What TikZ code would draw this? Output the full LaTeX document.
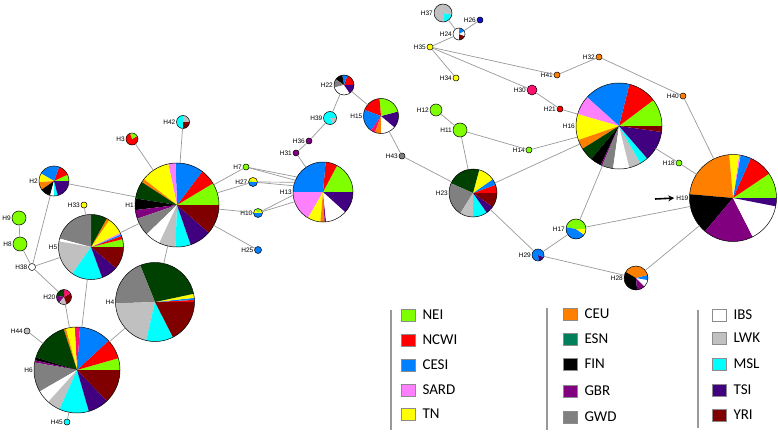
\documentclass[tikz,border=0pt]{standalone}
\usepackage{fontspec}
\setmainfont{Liberation Sans}
\newfontfamily\keyfont{Carlito}
\usetikzlibrary{positioning,arrows.meta}

\definecolor{nei}{HTML}{80FF00}
\definecolor{ncwi}{HTML}{FF0000}
\definecolor{cesi}{HTML}{0080FF}
\definecolor{sard}{HTML}{FF80FF}
\definecolor{tn}{HTML}{FFFF00}
\definecolor{ceu}{HTML}{FF8000}
\definecolor{esn}{HTML}{004000}
\definecolor{esnkey}{HTML}{00805A}
\definecolor{fin}{HTML}{000000}
\definecolor{gbr}{HTML}{800080}
\definecolor{gwd}{HTML}{808080}
\definecolor{ibs}{HTML}{FFFFFF}
\definecolor{lwk}{HTML}{C0C0C0}
\definecolor{msl}{HTML}{00FFFF}
\definecolor{tsi}{HTML}{400080}
\definecolor{yri}{HTML}{800000}
\definecolor{crim}{HTML}{FF1070}
\definecolor{navy}{HTML}{1010C8}

\newcommand\hfont{\fontsize{6.5}{7}\selectfont}

% haplotype pie: name, position, radius, colour/degrees list
\newcommand\hap[4]{%
  \node[hapnode, minimum size=2*#3pt, label={[hlab, name=#1-lab]left:#1}] (#1) at (#2) {};
  \gdef\angA{0}%
  \foreach \col/\sw in {#4}{%
    \pgfmathsetmacro\angB{\angA+\sw}%
    \fill[\col] (#1.center) -- ++(\angA:#3pt) arc[start angle=\angA, end angle=\angB, radius=#3pt] -- cycle;
    \xdef\angA{\angB}%
  }%
  \draw[rim] (#1.center) circle[radius=#3pt];
}

\begin{document}
\begin{tikzpicture}[
    x=1pt, y=-1pt,
    node distance=7pt,
    hapnode/.style={circle, inner sep=0pt, outer sep=0pt},
    hlab/.style={font=\hfont, inner sep=1pt},
    link/.style={draw=black!40, line width=0.7pt},
    rim/.style={draw=black, line width=0.5pt},
    swatch/.style={
        draw=black!45,
        line width=0.6pt,
        minimum width=14pt,
        minimum height=12pt,
        inner sep=0pt,
    },
    keytext/.style={font=\keyfont\fontsize{15}{18}\selectfont, inner sep=0pt},
    divider/.style={draw=black!40, line width=1.2pt},
    pointer/.style={-{Stealth[length=6pt, width=6pt]}, line width=1.6pt},
]
\useasboundingbox (0,0) rectangle (778,433);

% ----- Left cluster -----
\hap{H1}{177,205}{42}{nei/31, ncwi/22, cesi/39, sard/10, tn/40, ceu/5, esn/24, fin/16, gbr/12, gwd/25, ibs/21, lwk/23, msl/21, tsi/30, yri/41}
\hap{H2}{54,181}{15}{nei/25, ncwi/45, cesi/80, tn/35, ceu/30, fin/40, ibs/15, msl/15, tsi/75}
\hap{H3}{132,139}{6}{ncwi/30, nei/80, ncwi/250}
\hap{H42}{183,122}{6.5}{lwk/90, msl/180, yri/90}
\hap{H5}{91,247}{32.5}{nei/14, ncwi/6, cesi/3, sard/3, tn/30, ceu/5, esn/29, gwd/75, ibs/5, lwk/65, msl/55, tsi/30, yri/40}
\hap{H33}{84,205}{3}{tn/360}
\hap{H9}{19,218}{7}{nei/360}
\hap{H8}{20,244}{7}{nei/360}
\hap{H38}{32,267}{3.5}{ibs/360}
\hap{H7}{246,167}{3}{nei/360}
\hap{H27}{253,182}{4.5}{tn/150, nei/30, cesi/180}
\hap{H10}{258,213}{4.5}{tn/50, nei/80, tn/50, cesi/180}
\hap{H25}{258,250}{3.5}{cesi/360}
\hap{H4}{155,302}{39.5}{ncwi/3, cesi/3, tn/6, esn/100, gwd/70, lwk/75, msl/40, yri/63}
\hap{H20}{64,297}{7.5}{yri/30, crim/60, esn/80, gbr/60, lwk/60, yri/70}
\hap{H6}{77,370}{43}{nei/16, ncwi/27, cesi/43, crim/7, tn/12, ceu/3, esn/55, fin/4, gbr/3, gwd/40, ibs/18, lwk/18, msl/40, tsi/28, yri/46}
\hap{H44}{27,331}{3}{lwk/360}
\hap{H45}{67,422}{3}{msl/360}

% ----- Middle chain -----
\hap{H13}{323,192}{30}{nei/62, ncwi/23, cesi/95, sard/60, tn/25, ceu/8, gbr/3, ibs/42, tsi/42}
\hap{H31}{296,153}{3}{gbr/360}
\hap{H36}{309,141}{3}{gbr/360}
\hap{H39}{330,118}{6.5}{msl/300, lwk/60}
\hap{H22}{344,85}{10}{ncwi/70, cesi/30, fin/45, gwd/50, ibs/110, tsi/55}
\hap{H15}{381,116}{17.5}{tsi/15, nei/80, ncwi/65, cesi/75, crim/15, ceu/20, ibs/50, tsi/40}
\hap{H43}{402,156}{3}{gwd/360}

% ----- Right cluster -----
\hap{H37}{443,13}{9}{lwk/280, msl/70, lwk/10}
\hap{H26}{480,20}{3}{navy/360}
\hap{H24}{459,34}{6}{ibs/30, cesi/60, ibs/180, yri/70, ibs/20}
\hap{H35}{430,47}{3}{tn/360}
\hap{H34}{456,78}{3}{tn/360}
\hap{H32}{599,57}{3}{ceu/360}
\hap{H41}{557,75}{3}{ceu/360}
\hap{H30}{532,90}{5}{crim/360}
\hap{H21}{560,109}{3}{ncwi/360}
\hap{H16}{619,126}{43}{nei/37, ncwi/39, cesi/62, sard/26, tn/35, ceu/13, esn/18, fin/15, gbr/2, gwd/15, ibs/22, lwk/16, msl/11, tsi/41, yri/8}
\hap{H12}{436,110}{6}{nei/360}
\hap{H11}{460,130}{7}{nei/360}
\hap{H14}{529,150}{3}{nei/360}
\hap{H40}{683,96}{3}{ceu/360}
\hap{H18}{679,163}{3}{nei/360}
\hap{H23}{473,193}{24}{ncwi/20, cesi/15, tn/40, esn/81, gwd/82, lwk/32, msl/35, tsi/20, yri/35}
\hap{H19}{733,198}{43.5}{nei/34, ncwi/32, cesi/14, sard/2, tn/13, ceu/80, fin/55, gbr/67, ibs/52, tsi/11}
\hap{H17}{576,229}{10}{nei/170, cesi/155, tn/35}
\hap{H29}{538,255}{6}{cesi/280, tsi/60, cesi/20}
\hap{H28}{636,278}{12}{cesi/15, ceu/135, fin/125, gbr/40, ibs/35, cesi/10}

% ----- Links -----
\foreach \a/\b in {H1/H3, H1/H42, H1/H2, H1/H5, H1/H4, H1/H7, H1/H27, H1/H10, H1/H25,
    H2/H38, H9/H8, H8/H38, H38/H5, H38/H20, H20/H6, H5/H6, H5/H33, H6/H44, H6/H45, H6/H4,
    H13/H31, H31/H36, H36/H39, H39/H22, H22/H15, H15/H43, H43/H23,
    H23/H11, H11/H12, H11/H14, H14/H16, H23/H16, H23/H29,
    H16/H21, H21/H30, H30/H35, H35/H41, H41/H32, H32/H40, H40/H19,
    H35/H24, H35/H34, H24/H37, H24/H26,
    H16/H17, H16/H18, H18/H19, H17/H19, H17/H29, H29/H28, H28/H19}
    \draw[link] (\a) -- (\b);
\foreach \a/\ang in {H7/150, H7/157, H27/161, H27/168, H10/186, H10/199}
    \draw[link] (\a) -- (H13.\ang);

% ----- Pointer to H19 -----
\coordinate (ptr) at (655,199);
\draw[pointer, shorten >=1pt] (ptr) -- (H19-lab.west);

% ----- Legend -----
\draw[divider] (391,310) -- (391,430);
\draw[divider] (547,308) -- (547,430);
\draw[divider] (698,310) -- (698,428);
\foreach \k/\c/\y in {NEI/nei/315, NCWI/ncwi/340, CESI/cesi/365, SARD/sard/390, TN/tn/414}{
    \node[swatch, fill=\c] (k\k) at (408,\y) {};
    \node[keytext, right=of k\k] {\k};
}
\foreach \k/\c/\y in {CEU/ceu/314, ESN/esnkey/339, FIN/fin/364, GBR/gbr/391, GWD/gwd/417}{
    \node[swatch, fill=\c] (k\k) at (570,\y) {};
    \node[keytext, right=of k\k] {\k};
}
\foreach \k/\c/\y in {IBS/ibs/315, LWK/lwk/338, MSL/msl/364, TSI/tsi/390, YRI/yri/415}{
    \node[swatch, fill=\c] (k\k) at (719,\y) {};
    \node[keytext, right=of k\k] {\k};
}

\end{tikzpicture}
\end{document}
